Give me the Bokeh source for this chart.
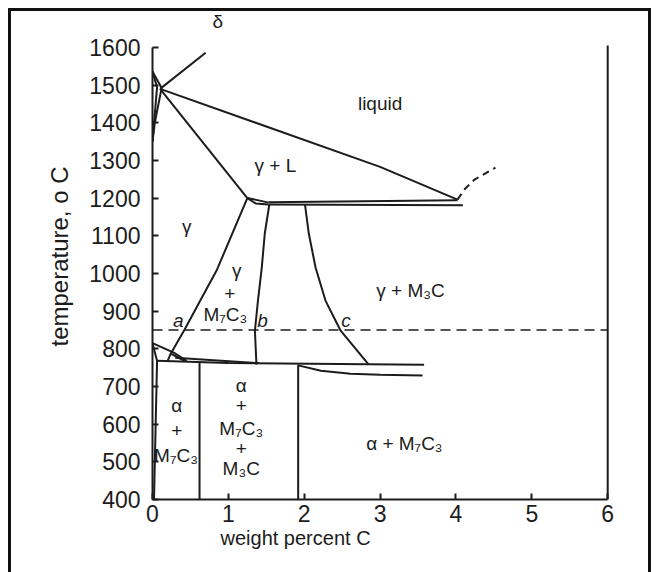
from bokeh.plotting import figure
from bokeh.models import Range1d, LinearAxis, FixedTicker, Title
from bokeh.embed import file_html
from bokeh.resources import INLINE
from bokeh.core.properties import value

# ---------------- data (wt% C, temperature in C) ----------------
x_ticks = [0, 1, 2, 3, 4, 5, 6]
y_ticks = [400, 500, 600, 700, 800, 900, 1000, 1100, 1200, 1300, 1400, 1500, 1600]

liquidus_x = [0.10, 1.5, 3.0, 4.02]
liquidus_T = [1490, 1390, 1283, 1196]
liq_ext_x = [4.02, 4.12, 4.25, 4.52]
liq_ext_T = [1196, 1225, 1250, 1281]
solidus_x = [0.10, 1.25]
solidus_T = [1490, 1200]
lens_up_x = [1.25, 1.40, 1.53]
lens_up_T = [1200, 1194, 1188]
lens_lo_x = [1.25, 1.36, 1.53]
lens_lo_T = [1200, 1186, 1183]
eut_up_x = [1.53, 4.02]
eut_up_T = [1189, 1194]
eut_lo_x = [1.53, 4.09]
eut_lo_T = [1183, 1181]
gam_x = [1.25, 0.85, 0.63, 0.42, 0.24, 0.20]
gam_T = [1200, 1010, 928, 850, 787, 768]
tri_x = [0.24, 0.42]
tri_T = [787, 768]
b_x = [1.54, 1.48, 1.44, 1.39, 1.35, 1.37]
b_T = [1183, 1106, 1015, 928, 848, 758]
c_x = [2.01, 2.06, 2.15, 2.28, 2.48, 2.85]
c_T = [1183, 1106, 1015, 928, 848, 758]
eutd_x = [0.06, 1.0, 3.58]
eutd_T = [768, 762, 758]
eutd2_x = [0.30, 1.40]
eutd2_T = [776, 762]
low_x = [1.92, 2.22, 2.61, 3.0, 3.56]
low_T = [756, 742, 734, 731, 729]
a3_x = [0.0, 0.28, 0.45]
a3_T = [815, 790, 768]
alpha_x = [0.0, 0.06, 0.02]
alpha_T = [815, 768, 400]
v1_x = [0.62, 0.62]
v1_T = [400, 762]
v2_x = [1.92, 1.92]
v2_T = [400, 758]
delta1_x = [0.0, 0.12]
delta1_T = [1536, 1492]
delta2_x = [0.0, 0.06, 0.0]
delta2_T = [1536, 1494, 1350]
delta3_x = [0.12, 0.03, 0.0]
delta3_T = [1492, 1400, 1350]
delta_lead_x = [0.10, 0.70]
delta_lead_T = [1490, 1586]
dash_x = [0.0, 6.0]
dash_T = [850, 850]
right_x = [6.0, 6.0]
right_T = [400, 1605]

labels = ["liquid", "\u03b3 + L", "\u03b3", "\u03b3", "+", "M\u2087C\u2083", "\u03b3 + M\u2083C",
          "\u03b1", "+", "M\u2087C\u2083", "\u03b1", "+", "M\u2087C\u2083", "+", "M\u2083C",
          "\u03b1 + M\u2087C\u2083", "\u03b4"]
labels_x = [3.0, 1.62, 0.45, 1.11, 1.02, 0.96, 3.40,
            0.32, 0.32, 0.31, 1.17, 1.17, 1.17, 1.17, 1.17,
            3.32, 0.86]
labels_T = [1450, 1286, 1124, 1007, 946, 890, 955,
            650, 583, 517, 702, 649, 588, 535, 482,
            548, 1668]
italic_labels = ["a", "b", "c"]
italic_x = [0.34, 1.45, 2.55]
italic_T = [875, 875, 875]

INK = "#1c1c1c"

p = figure(width=643, height=564, output_backend="svg", toolbar_location=None,
           x_range=Range1d(0, 6.05), y_range=Range1d(400, 1690),
           min_border_left=141, min_border_right=43, min_border_top=2, min_border_bottom=76,
           x_axis_location=None, y_axis_location=None)
p.styles = {"margin-left": "8px", "margin-top": "8px",
            "border-left": "3px solid #111", "border-right": "3px solid #111",
            "border-top": "3px solid #111"}
p.grid.visible = False
p.outline_line_color = None
p.background_fill_color = "white"
p.border_fill_color = "white"

xa = LinearAxis(ticker=FixedTicker(ticks=x_ticks), bounds=(0, 6))
ya = LinearAxis(ticker=FixedTicker(ticks=y_ticks), bounds=(400, 1600),
                axis_label="temperature, o C")
for ax in (xa, ya):
    ax.axis_line_color = INK
    ax.axis_line_width = 2
    ax.major_tick_line_color = INK
    ax.major_tick_line_width = 2
    ax.major_tick_in = 6
    ax.major_tick_out = 0
    ax.minor_tick_line_color = None
    ax.major_label_text_font = "Liberation Sans"
    ax.major_label_text_font_size = "23px"
    ax.major_label_text_color = INK
ya.axis_label_text_font = "Liberation Sans"
ya.axis_label_text_font_size = "24px"
ya.axis_label_text_font_style = "normal"
ya.axis_label_text_color = INK
xa.major_label_standoff = 5
ya.major_label_standoff = 12
ya.axis_label_standoff = 13
p.add_layout(xa, "below")
p.add_layout(ya, "left")

xlabel = Title(text="weight percent C", align="left", offset=68, standoff=0,
               text_font="Liberation Sans", text_font_size="20px",
               text_font_style="normal", text_color=INK)
p.add_layout(xlabel, "below")

solid = [(liquidus_x, liquidus_T), (solidus_x, solidus_T), (lens_up_x, lens_up_T),
         (lens_lo_x, lens_lo_T), (eut_up_x, eut_up_T), (eut_lo_x, eut_lo_T),
         (gam_x, gam_T), (tri_x, tri_T), (b_x, b_T), (c_x, c_T), (eutd_x, eutd_T),
         (eutd2_x, eutd2_T), (low_x, low_T), (a3_x, a3_T), (alpha_x, alpha_T),
         (v1_x, v1_T), (v2_x, v2_T), (delta1_x, delta1_T), (delta2_x, delta2_T),
         (delta3_x, delta3_T), (delta_lead_x, delta_lead_T), (right_x, right_T)]
for xs, ts in solid:
    p.line(xs, ts, line_color=INK, line_width=2)

p.line(liq_ext_x, liq_ext_T, line_color=INK, line_width=2, line_dash="7 5")
p.line(dash_x, dash_T, line_color=INK, line_width=1.6, line_dash="10 6")

p.text(labels_x, labels_T, text=labels, text_align="center", text_baseline="middle",
       text_font=value("Liberation Sans"), text_font_size="19px", text_color=INK)
p.text(italic_x, italic_T, text=italic_labels, text_align="center", text_baseline="middle",
       text_font=value("Liberation Sans"), text_font_size="19px", text_font_style="italic",
       text_color=INK)

open("out.html", "w").write(file_html(p, INLINE))
